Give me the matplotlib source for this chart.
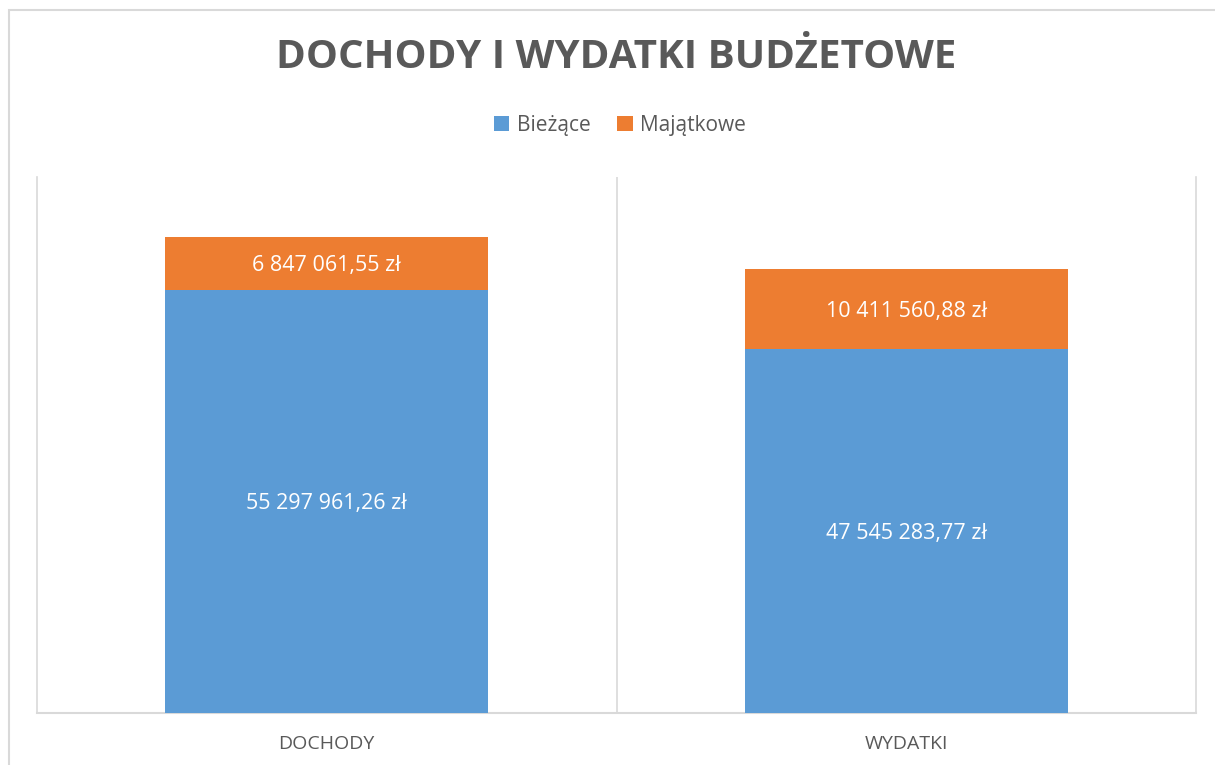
import numpy as np
import matplotlib.pyplot as plt
from matplotlib.patches import Rectangle

categories = ['DOCHODY', 'WYDATKI']
biezace = [55297961.26, 47545283.77]
majatkowe = [6847061.55, 10411560.88]
series_names = ['Bieżące', 'Majątkowe']
colors = ['#5B9BD5', '#ED7D31']
text_color = '#595959'
grid_color = '#D9D9D9'


def fmt_pln(v):
    s = f'{v:,.2f}'
    whole, dec = s.split('.')
    return whole.replace(',', ' ') + ',' + dec + ' zł'


def main():
    plt.rcParams['font.family'] = ['Open Sans', 'DejaVu Sans']
    fig = plt.figure(figsize=(12.15, 7.65), dpi=100)
    W, H = 1215, 765

    # outer chart frame (only left/top edges visible in the reference)
    fig.patches.append(Rectangle((9 / W, -0.05), 1.2, (765 - 10) / H + 0.05,
                                 transform=fig.transFigure, fill=False,
                                 edgecolor=grid_color, linewidth=1.5))

    ax = fig.add_axes([37 / W, (H - 713) / H, (1196 - 37) / W, (713 - 177) / H])
    x = np.arange(len(categories))
    width = 0.557

    b1 = ax.bar(x, biezace, width, color=colors[0], label=series_names[0], zorder=3)
    b2 = ax.bar(x, majatkowe, width, bottom=biezace, color=colors[1],
                label=series_names[1], zorder=3)

    for rects, vals, bottoms in [(b1, biezace, [0, 0]), (b2, majatkowe, biezace)]:
        for r, v, b in zip(rects, vals, bottoms):
            ax.text(r.get_x() + r.get_width() / 2, b + v / 2, fmt_pln(v),
                    ha='center', va='center_baseline', color='white',
                    fontsize=15.5, zorder=4)

    ax.set_xlim(-0.5, 1.5)
    ax.set_ylim(0, 70000000)
    ax.set_yticks([])
    ax.set_xticks(x)
    ax.set_xticklabels(categories, color=text_color, fontsize=14)
    ax.tick_params(axis='x', length=0, pad=16)

    # vertical gridlines at category boundaries
    ax.axvline(0.5, color=grid_color, linewidth=1.2, zorder=1)
    ax.axvline(1.5, color=grid_color, linewidth=1.2, zorder=1, clip_on=False)
    for side in ['top', 'right']:
        ax.spines[side].set_visible(False)
    ax.spines['left'].set_color(grid_color)
    ax.spines['bottom'].set_color(grid_color)
    ax.spines['left'].set_linewidth(1.2)
    ax.spines['bottom'].set_linewidth(1.5)

    fig.text(616 / W, 1 - 58 / H, 'DOCHODY I WYDATKI BUDŻETOWE', ha='center',
             va='center', fontsize=29, fontweight='bold', color=text_color)

    fig.legend(loc='center', bbox_to_anchor=(620 / W, 1 - 125 / H), ncol=2,
               frameon=False, fontsize=15, handlelength=0.75, handleheight=0.75,
               columnspacing=1.3, handletextpad=0.35, labelcolor=text_color)

    plt.savefig('out.png', dpi=100)


if __name__ == "__main__":
    main()
